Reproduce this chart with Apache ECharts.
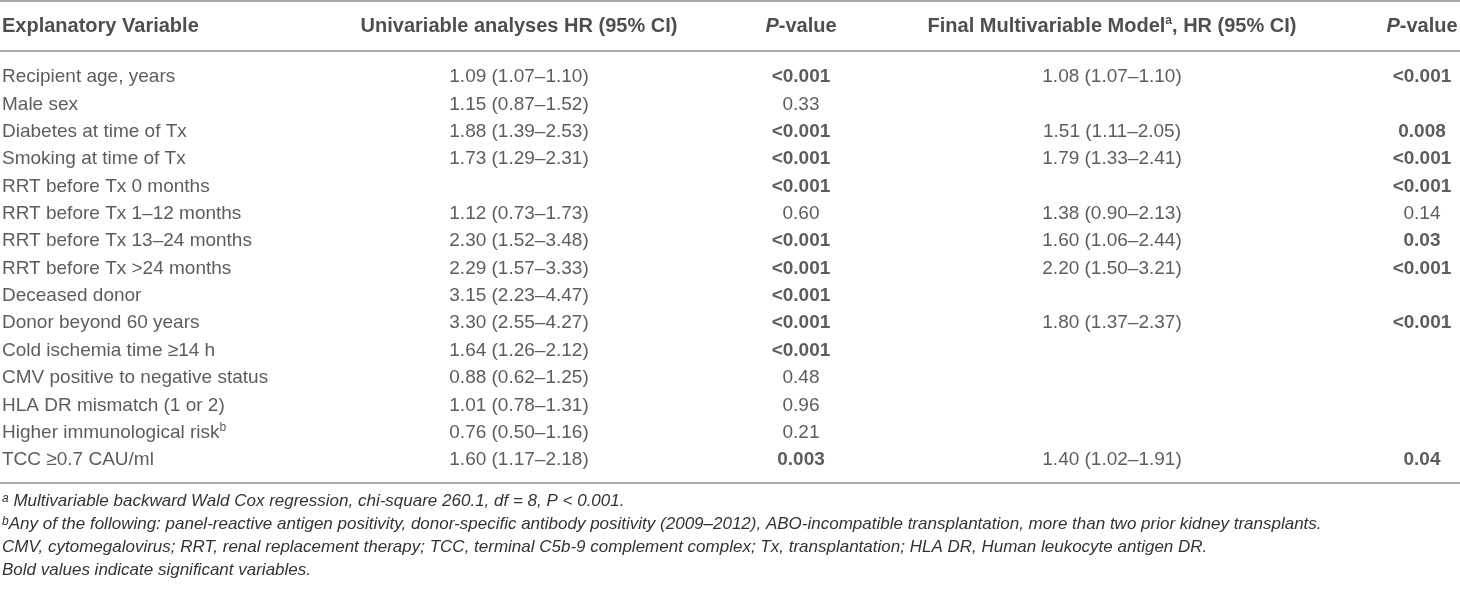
<!DOCTYPE html>
<html>
<head>
<meta charset="utf-8">
<script src="https://cdn.jsdelivr.net/npm/echarts@6/dist/echarts.min.js"></script>
<style>
  html, body { margin: 0; padding: 0; background: #fff; }
  #chart { width: 1460px; height: 593px; }
</style>
</head>
<body>
<div id="chart"></div>
<script>
// table content
const headers = [
  'Explanatory Variable',
  'Univariable analyses HR (95% CI)',
  '{i|P}-value',
  'Final Multivariable Model{sup|a}, HR (95% CI)',
  '{i|P}-value'
];
const variables = [
  'Recipient age, years',
  'Male sex',
  'Diabetes at time of Tx',
  'Smoking at time of Tx',
  'RRT before Tx 0 months',
  'RRT before Tx 1–12 months',
  'RRT before Tx 13–24 months',
  'RRT before Tx >24 months',
  'Deceased donor',
  'Donor beyond 60 years',
  'Cold ischemia time ≥14 h',
  'CMV positive to negative status',
  'HLA DR mismatch (1 or 2)',
  'Higher immunological risk{sup|b}',
  'TCC ≥0.7 CAU/ml'
];
const uniHR = [
  '1.09 (1.07–1.10)', '1.15 (0.87–1.52)', '1.88 (1.39–2.53)', '1.73 (1.29–2.31)', '',
  '1.12 (0.73–1.73)', '2.30 (1.52–3.48)', '2.29 (1.57–3.33)', '3.15 (2.23–4.47)', '3.30 (2.55–4.27)',
  '1.64 (1.26–2.12)', '0.88 (0.62–1.25)', '1.01 (0.78–1.31)', '0.76 (0.50–1.16)', '1.60 (1.17–2.18)'
];
const uniP = [
  '<0.001', '0.33', '<0.001', '<0.001', '<0.001', '0.60', '<0.001', '<0.001',
  '<0.001', '<0.001', '<0.001', '0.48', '0.96', '0.21', '0.003'
];
const multiHR = [
  '1.08 (1.07–1.10)', '', '1.51 (1.11–2.05)', '1.79 (1.33–2.41)', '',
  '1.38 (0.90–2.13)', '1.60 (1.06–2.44)', '2.20 (1.50–3.21)', '', '1.80 (1.37–2.37)',
  '', '', '', '', '1.40 (1.02–1.91)'
];
const multiP = [
  '<0.001', '', '0.008', '<0.001', '<0.001', '0.14', '0.03', '<0.001',
  '', '<0.001', '', '', '', '', '0.04'
];
const footnotes = [
  '{sup|a} Multivariable backward Wald Cox regression, chi-square 260.1, df = 8, P < 0.001.',
  '{sup|b}Any of the following: panel-reactive antigen positivity, donor-specific antibody positivity (2009–2012), ABO-incompatible transplantation, more than two prior kidney transplants.',
  'CMV, cytomegalovirus; RRT, renal replacement therapy; TCC, terminal C5b-9 complement complex; Tx, transplantation; HLA DR, Human leukocyte antigen DR.',
  'Bold values indicate significant variables.'
];

// layout
const FONT = "'Liberation Sans', Arial, Helvetica, sans-serif";
const colX = [2, 519, 801, 1112, 1422];      // left edge for col 0, centre for the others
const rowH = 27.36;
const bodyTop = 63.3;
const footY = [501, 524, 547, 570];
const ruleY = [1, 51, 483];

const isSig = p => p !== '' && (p.charAt(0) === '<' || parseFloat(p) < 0.05);

const columns = [variables, uniHR, uniP, multiHR, multiP];

function cellSeries(gridIndex, col, texts, opts) {
  return {
    type: 'scatter',
    xAxisIndex: gridIndex,
    yAxisIndex: gridIndex,
    symbolSize: 0,
    silent: true,
    data: texts.map((t, i) => ({
      value: [colX[col], i],
      text: t,
      label: opts.boldIf ? { fontWeight: opts.boldIf(t) ? 'bold' : 'normal' } : undefined
    })),
    label: {
      show: true,
      position: col === 0 ? 'right' : 'inside',
      distance: 0,
      formatter: p => p.data.text,
      fontFamily: FONT,
      fontSize: opts.fontSize,
      fontWeight: opts.fontWeight,
      color: opts.color,
      lineHeight: opts.fontSize + 2,
      rich: {
        i: { fontStyle: 'italic', fontWeight: opts.fontWeight, fontSize: opts.fontSize, fontFamily: FONT, color: opts.color },
        sup: { fontSize: 12, fontWeight: opts.fontWeight, fontFamily: FONT, color: opts.color, verticalAlign: 'top', lineHeight: 12 }
      }
    }
  };
}

const series = [];
headers.forEach((h, c) => {
  series.push(cellSeries(0, c, [h], { fontSize: 20, fontWeight: 'bold', color: '#222' }));
});
columns.forEach((texts, c) => {
  series.push(cellSeries(1, c, texts, {
    fontSize: 19,
    fontWeight: 'normal',
    color: '#333',
    boldIf: (c === 2 || c === 4) ? isSig : null
  }));
});

const graphic = [];
ruleY.forEach(y => {
  graphic.push({
    type: 'line',
    silent: true,
    shape: { x1: 0, y1: y, x2: 1460, y2: y },
    style: { stroke: '#a8a8a8', lineWidth: 2 }
  });
});
footnotes.forEach((t, i) => {
  graphic.push({
    type: 'text',
    silent: true,
    x: 2,
    y: footY[i],
    style: {
      text: t,
      fontFamily: FONT,
      fontSize: 17,
      fontStyle: 'italic',
      fill: '#333',
      verticalAlign: 'middle',
      rich: {
        sup: { fontSize: 12, fontStyle: 'italic', fontFamily: FONT, fill: '#333', verticalAlign: 'top', lineHeight: 12 }
      }
    }
  });
});

const chart = echarts.init(document.getElementById('chart'));
chart.setOption({
  animation: false,
  backgroundColor: '#fff',
  grid: [
    { left: 0, right: 0, top: 2, height: 48 },
    { left: 0, right: 0, top: bodyTop, height: rowH * variables.length }
  ],
  xAxis: [
    { gridIndex: 0, type: 'value', min: 0, max: 1460, show: false },
    { gridIndex: 1, type: 'value', min: 0, max: 1460, show: false }
  ],
  yAxis: [
    { gridIndex: 0, type: 'category', data: ['header'], show: false },
    { gridIndex: 1, type: 'category', data: variables, inverse: true, show: false }
  ],
  series: series,
  graphic: graphic
});
</script>
</body>
</html>
